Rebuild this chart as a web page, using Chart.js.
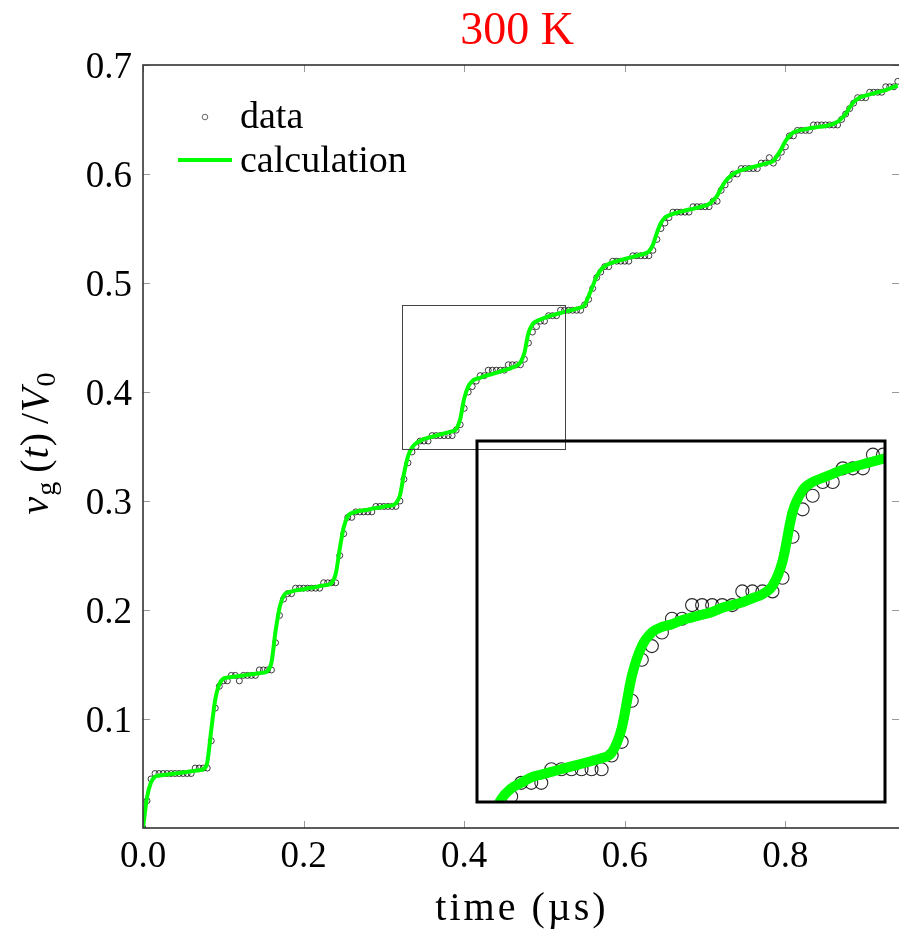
<!DOCTYPE html>
<html>
<head>
<meta charset="utf-8">
<script src="https://cdn.jsdelivr.net/npm/chart.js@4.4.0/dist/chart.umd.min.js"></script>
<style>
  html, body { margin: 0; padding: 0; background: #fff; }
  #wrap { position: relative; width: 899px; height: 933px; overflow: hidden; }
  #main { position: absolute; left: 0; top: 0; }
  #inset { position: absolute; left: 475px; top: 439px; }
</style>
</head>
<body>
<div id="wrap">
  <canvas id="main" width="899" height="933"></canvas>
  <canvas id="inset" width="412" height="365"></canvas>
</div>
<script>
// time axis (µs)
const time = [
  0.000, 0.005, 0.010, 0.015, 0.020, 0.025, 0.030, 0.035, 0.040, 0.045,
  0.050, 0.055, 0.060, 0.065, 0.070, 0.075, 0.080, 0.085, 0.090, 0.095,
  0.100, 0.105, 0.110, 0.115, 0.120, 0.125, 0.130, 0.135, 0.140, 0.145,
  0.150, 0.155, 0.160, 0.165, 0.170, 0.175, 0.180, 0.185, 0.190, 0.195,
  0.200, 0.205, 0.210, 0.215, 0.220, 0.225, 0.230, 0.235, 0.240, 0.245,
  0.250, 0.255, 0.260, 0.265, 0.270, 0.275, 0.280, 0.285, 0.290, 0.295,
  0.300, 0.305, 0.310, 0.315, 0.320, 0.325, 0.330, 0.335, 0.340, 0.345,
  0.350, 0.355, 0.360, 0.365, 0.370, 0.375, 0.380, 0.385, 0.390, 0.395,
  0.400, 0.405, 0.410, 0.415, 0.420, 0.425, 0.430, 0.435, 0.440, 0.445,
  0.450, 0.455, 0.460, 0.465, 0.470, 0.475, 0.480, 0.485, 0.490, 0.495,
  0.500, 0.505, 0.510, 0.515, 0.520, 0.525, 0.530, 0.535, 0.540, 0.545,
  0.550, 0.555, 0.560, 0.565, 0.570, 0.575, 0.580, 0.585, 0.590, 0.595,
  0.600, 0.605, 0.610, 0.615, 0.620, 0.625, 0.630, 0.635, 0.640, 0.645,
  0.650, 0.655, 0.660, 0.665, 0.670, 0.675, 0.680, 0.685, 0.690, 0.695,
  0.700, 0.705, 0.710, 0.715, 0.720, 0.725, 0.730, 0.735, 0.740, 0.745,
  0.750, 0.755, 0.760, 0.765, 0.770, 0.775, 0.780, 0.785, 0.790, 0.795,
  0.800, 0.805, 0.810, 0.815, 0.820, 0.825, 0.830, 0.835, 0.840, 0.845,
  0.850, 0.855, 0.860, 0.865, 0.870, 0.875, 0.880, 0.885, 0.890, 0.895,
  0.900, 0.905, 0.910, 0.915, 0.920, 0.925, 0.930, 0.935, 0.940
];

// measured v_g/V0 (quantized)
const measured = [
  0.000, 0.025, 0.045, 0.050, 0.050, 0.050, 0.050, 0.050, 0.050, 0.050,
  0.050, 0.050, 0.050, 0.055, 0.055, 0.055, 0.055, 0.080, 0.110, 0.130,
  0.135, 0.135, 0.140, 0.140, 0.135, 0.140, 0.140, 0.140, 0.140, 0.145,
  0.145, 0.145, 0.145, 0.170, 0.195, 0.210, 0.215, 0.215, 0.220, 0.220,
  0.220, 0.220, 0.220, 0.220, 0.220, 0.225, 0.225, 0.225, 0.225, 0.250,
  0.270, 0.285, 0.285, 0.290, 0.290, 0.290, 0.290, 0.290, 0.295, 0.295,
  0.295, 0.295, 0.295, 0.295, 0.300, 0.320, 0.335, 0.345, 0.350, 0.355,
  0.355, 0.355, 0.360, 0.360, 0.360, 0.360, 0.360, 0.360, 0.365, 0.370,
  0.385, 0.400, 0.405, 0.410, 0.415, 0.415, 0.420, 0.420, 0.420, 0.420,
  0.420, 0.425, 0.425, 0.425, 0.425, 0.430, 0.445, 0.455, 0.460, 0.465,
  0.465, 0.470, 0.470, 0.470, 0.475, 0.475, 0.475, 0.475, 0.475, 0.475,
  0.480, 0.485, 0.495, 0.505, 0.510, 0.515, 0.515, 0.520, 0.520, 0.520,
  0.520, 0.520, 0.525, 0.525, 0.525, 0.525, 0.525, 0.530, 0.540, 0.550,
  0.555, 0.560, 0.565, 0.565, 0.565, 0.565, 0.565, 0.570, 0.570, 0.570,
  0.570, 0.570, 0.575, 0.575, 0.585, 0.590, 0.595, 0.600, 0.600, 0.605,
  0.605, 0.605, 0.605, 0.605, 0.610, 0.610, 0.615, 0.610, 0.615, 0.620,
  0.625, 0.635, 0.635, 0.640, 0.640, 0.640, 0.640, 0.645, 0.645, 0.645,
  0.645, 0.645, 0.645, 0.645, 0.650, 0.655, 0.660, 0.665, 0.670, 0.670,
  0.670, 0.675, 0.675, 0.675, 0.675, 0.680, 0.680, 0.680, 0.685
];

// calculated v_g/V0
const calculated = [
  0.000, 0.028, 0.042, 0.047, 0.048, 0.0485, 0.049, 0.0495, 0.050, 0.0505,
  0.051, 0.0515, 0.052, 0.0525, 0.053, 0.054, 0.060, 0.090, 0.118, 0.132,
  0.137, 0.138, 0.1385, 0.139, 0.1395, 0.140, 0.1405, 0.141, 0.1415, 0.142,
  0.1425, 0.144, 0.152, 0.180, 0.202, 0.213, 0.216, 0.217, 0.218, 0.2185,
  0.219, 0.220, 0.2205, 0.221, 0.222, 0.2225, 0.223, 0.225, 0.233, 0.256,
  0.276, 0.286, 0.289, 0.290, 0.291, 0.2915, 0.292, 0.293, 0.2935, 0.294,
  0.295, 0.2955, 0.296, 0.298, 0.305, 0.325, 0.341, 0.349, 0.353, 0.355,
  0.357, 0.358, 0.359, 0.360, 0.361, 0.362, 0.363, 0.364, 0.366, 0.375,
  0.394, 0.405, 0.410, 0.412, 0.413, 0.4145, 0.4155, 0.4165, 0.4175, 0.419,
  0.420, 0.421, 0.4225, 0.424, 0.427, 0.436, 0.454, 0.462, 0.465, 0.4665,
  0.468, 0.4695, 0.4705, 0.4715, 0.4725, 0.4735, 0.4745, 0.4755, 0.4765, 0.4775,
  0.480, 0.488, 0.497, 0.506, 0.512, 0.5155, 0.5175, 0.519, 0.520, 0.521,
  0.522, 0.523, 0.524, 0.525, 0.526, 0.527, 0.529, 0.535, 0.546, 0.555,
  0.560, 0.562, 0.5635, 0.5645, 0.5655, 0.5665, 0.5675, 0.568, 0.569, 0.570,
  0.571, 0.5725, 0.576, 0.580, 0.587, 0.593, 0.597, 0.600, 0.602, 0.6035,
  0.6045, 0.6055, 0.6065, 0.6075, 0.6085, 0.6095, 0.6105, 0.612, 0.617, 0.623,
  0.630, 0.635, 0.638, 0.6395, 0.6405, 0.641, 0.642, 0.6425, 0.643, 0.6435,
  0.644, 0.645, 0.646, 0.648, 0.651, 0.655, 0.661, 0.666, 0.669, 0.671,
  0.672, 0.673, 0.674, 0.675, 0.676, 0.677, 0.6785, 0.680, 0.681
];

const xTicks = [0.0, 0.2, 0.4, 0.6, 0.8];
const yTicks = [0.1, 0.2, 0.3, 0.4, 0.5, 0.6, 0.7];
const xRange = [0, 0.9415];
const yRange = [0, 0.7];
// region shown magnified in the inset
const zoomX = [0.323, 0.526];
const zoomY = [0.348, 0.480];

const FONT = '"Liberation Serif", "Times New Roman", serif';
const GREEN = '#00ff00';

function pts(ys) {
    return time.map((t, i) => ({ x: t, y: ys[i] }));
}

function line(ctx, x1, y1, x2, y2) {
    ctx.beginPath();
    ctx.moveTo(x1, y1);
    ctx.lineTo(x2, y2);
    ctx.stroke();
}

// Axes frame, inward ticks, labels, legend, zoom box
const framePlugin = {
    id: 'frame',
    afterDraw(chart) {
        const { ctx, chartArea: a, scales: { x, y } } = chart;
        ctx.save();

        // zoom box
        ctx.strokeStyle = '#444';
        ctx.lineWidth = 1;
        const bx0 = x.getPixelForValue(zoomX[0]), bx1 = x.getPixelForValue(zoomX[1]);
        const by0 = y.getPixelForValue(zoomY[0]), by1 = y.getPixelForValue(zoomY[1]);
        ctx.strokeRect(Math.round(bx0) + 0.5, Math.round(by1) + 0.5, Math.round(bx1 - bx0), Math.round(by0 - by1));

        // ticks on all four sides
        ctx.strokeStyle = '#999';
        ctx.lineWidth = 1;
        xTicks.forEach(v => {
            const px = Math.round(x.getPixelForValue(v)) + 0.5;
            line(ctx, px, a.bottom, px, a.bottom - 7);
            line(ctx, px, a.top, px, a.top + 7);
        });
        yTicks.forEach(v => {
            const py = Math.round(y.getPixelForValue(v)) + 0.5;
            line(ctx, a.left, py, a.left + 7, py);
            line(ctx, a.right, py, a.right - 7, py);
        });

        // frame (right edge falls just outside the picture)
        ctx.strokeStyle = '#333';
        ctx.lineWidth = 1.6;
        ctx.strokeRect(a.left, a.top, a.right + 3 - a.left, a.bottom - a.top);

        // tick labels
        ctx.fillStyle = '#000';
        ctx.font = '37px ' + FONT;
        ctx.textAlign = 'center';
        ctx.textBaseline = 'alphabetic';
        xTicks.forEach(v => ctx.fillText(v.toFixed(1), x.getPixelForValue(v), 867));
        ctx.textAlign = 'right';
        yTicks.forEach(v => ctx.fillText(v.toFixed(1), 132, y.getPixelForValue(v) + 12.5));

        // x title
        ctx.textAlign = 'center';
        ctx.font = '40px ' + FONT;
        ctx.letterSpacing = '3px';
        ctx.fillText('time (\u00b5s)', 522, 920);
        ctx.letterSpacing = '0px';

        // title
        ctx.fillStyle = '#ff0000';
        ctx.font = '46px ' + FONT;
        ctx.fillText('300 K', 517, 44);

        // y title: v_g (t) /V_0
        ctx.save();
        ctx.translate(48, 443);
        ctx.rotate(-Math.PI / 2);
        ctx.fillStyle = '#000';
        const big = '40px ' + FONT, ital = 'italic 40px ' + FONT, sub = '28px ' + FONT;
        const parts = [
            ['v', ital, 0], ['g', sub, 7], ['\u2009(', big, 0], ['t', ital, 0],
            [')', big, 0], ['\u2009/', big, 0], ['V', ital, 0], ['0', sub, 7]
        ];
        let total = 0;
        parts.forEach(p => { ctx.font = p[1]; total += ctx.measureText(p[0]).width + 1; });
        let cx = -total / 2;
        ctx.textAlign = 'left';
        parts.forEach(p => {
            ctx.font = p[1];
            ctx.fillText(p[0], cx, p[2]);
            cx += ctx.measureText(p[0]).width + 1;
        });
        ctx.restore();

        // legend
        ctx.strokeStyle = '#666';
        ctx.lineWidth = 1;
        ctx.beginPath();
        ctx.arc(205, 117, 2.8, 0, Math.PI * 2);
        ctx.stroke();
        ctx.strokeStyle = GREEN;
        ctx.lineWidth = 4;
        line(ctx, 178, 160, 232, 160);
        ctx.fillStyle = '#000';
        ctx.font = '38px ' + FONT;
        ctx.textAlign = 'left';
        ctx.fillText('data', 240, 128);
        ctx.fillText('calculation', 240, 172);

        ctx.restore();
    }
};

const insetFrame = {
    id: 'insetFrame',
    afterDraw(chart) {
        const { ctx, chartArea: a } = chart;
        ctx.save();
        ctx.strokeStyle = '#000';
        ctx.lineWidth = 3;
        ctx.strokeRect(a.left, a.top, a.right - a.left, a.bottom - a.top);
        ctx.restore();
    }
};

function makeChart(id, opts) {
    return new Chart(document.getElementById(id), {
        type: 'scatter',
        data: {
            datasets: [
                {
                    label: 'calculation',
                    data: pts(calculated),
                    showLine: true,
                    borderColor: GREEN,
                    borderWidth: opts.lineWidth,
                    pointRadius: 0,
                    cubicInterpolationMode: 'monotone',
                    order: 0,
                    clip: 0
                },
                {
                    label: 'data',
                    data: pts(measured),
                    showLine: false,
                    pointStyle: 'circle',
                    pointRadius: opts.radius,
                    pointBorderWidth: opts.ptWidth,
                    pointBorderColor: 'rgba(0,0,0,0.85)',
                    pointBackgroundColor: 'rgba(0,0,0,0)',
                    order: 1,
                    clip: 0
                }
            ]
        },
        options: {
            responsive: false,
            animation: false,
            events: [],
            layout: { padding: opts.padding, autoPadding: false },
            plugins: { legend: { display: false }, tooltip: { enabled: false }, title: { display: false } },
            scales: {
                x: { type: 'linear', display: false, min: opts.xr[0], max: opts.xr[1] },
                y: { type: 'linear', display: false, min: opts.yr[0], max: opts.yr[1] }
            }
        },
        plugins: [opts.plugin]
    });
}

makeChart('main', {
    lineWidth: 4, radius: 3, ptWidth: 0.9,
    padding: { left: 143, top: 65, right: 0, bottom: 105 },
    xr: xRange, yr: yRange, plugin: framePlugin
});

makeChart('inset', {
    lineWidth: 10, radius: 6.5, ptWidth: 1.1,
    padding: { left: 2, top: 2, right: 2, bottom: 2 },
    xr: zoomX, yr: zoomY, plugin: insetFrame
});
</script>
</body>
</html>
